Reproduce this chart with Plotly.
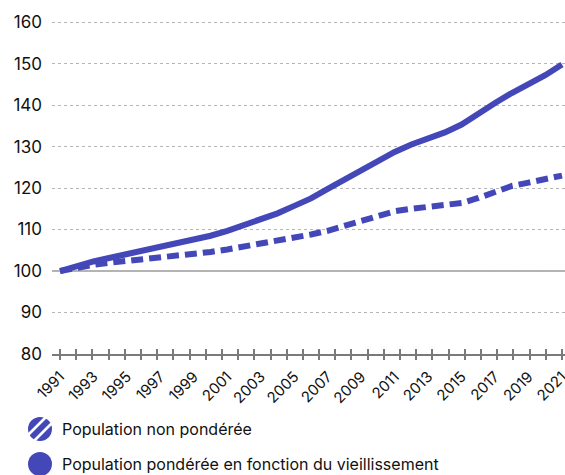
import plotly.graph_objects as go

years = list(range(1991, 2022))
pop_ponderee = [100.0, 101.2, 102.3, 103.2, 104.1, 104.9, 105.7, 106.5, 107.4, 108.5,
                109.7, 111.0, 112.4, 113.9, 115.7, 117.5, 119.8, 122.0, 124.4, 126.7,
                128.7, 130.5, 132.0, 133.4, 135.3, 138.0, 140.5, 142.9, 145.0, 147.2, 149.8]
pop_non_ponderee = [100.0, 100.8, 101.5, 102.0, 102.4, 102.7, 103.1, 103.5, 104.0, 104.6,
                    105.2, 105.9, 106.6, 107.2, 107.9, 108.8, 109.7, 110.9, 112.0, 113.3,
                    114.4, 115.0, 115.4, 115.8, 116.4, 117.6, 119.2, 120.5, 121.3, 122.0, 123.0]
y_ticks = [80, 90, 100, 110, 120, 130, 140, 150, 160]
x_labels = list(range(1991, 2022, 2))
legend_labels = ["Population non pondérée", "Population pondérée en fonction du vieillissement"]

COLOR = "#4347b8"
FONT = "Inter, Roboto, sans-serif"
XRANGE = [1990.52, 2021.18]
tick_step = 30 / 31

fig = go.Figure()
fig.add_trace(go.Scatter(x=years, y=pop_non_ponderee, mode="lines",
                         line=dict(color=COLOR, width=6, dash="12px,6px"),
                         showlegend=False, hoverinfo="skip"))
fig.add_trace(go.Scatter(x=years, y=pop_ponderee, mode="lines",
                         line=dict(color=COLOR, width=6),
                         showlegend=False, hoverinfo="skip"))
# dummy traces to create overlay axes for crossing tick marks
fig.add_trace(go.Scatter(x=[years[0]], y=[pop_ponderee[0]], xaxis="x2", mode="markers",
                         marker=dict(opacity=0), showlegend=False, hoverinfo="skip"))
fig.add_trace(go.Scatter(x=[years[0]], y=[pop_ponderee[0]], xaxis="x3", mode="markers",
                         marker=dict(opacity=0), showlegend=False, hoverinfo="skip"))

axis_gray = "#7a7a7a"
fig.update_layout(
    width=565, height=475,
    margin=dict(l=52, r=0, t=20, b=121, autoexpand=False),
    paper_bgcolor="white", plot_bgcolor="white",
    font=dict(family=FONT, color="#111", size=16),
    hovermode=False,
    xaxis=dict(range=XRANGE, tickmode="array", tickvals=x_labels,
               ticktext=[str(v) for v in x_labels], tickangle=-45,
               ticks="", showgrid=False, zeroline=False, automargin=False,
               ticklabeloverflow="allow",
               showline=True, linecolor=axis_gray, linewidth=2, ticklabelstandoff=6,
               tickfont=dict(size=15, family=FONT, color="#111")),
    xaxis2=dict(range=XRANGE, overlaying="x", anchor="y", side="bottom",
                tick0=1991, dtick=tick_step, ticks="outside", ticklen=5, automargin=False,
                tickwidth=1.5, tickcolor=axis_gray, showticklabels=False,
                showgrid=False, zeroline=False, showline=False),
    xaxis3=dict(range=XRANGE, overlaying="x", anchor="y", side="bottom",
                tick0=1991, dtick=tick_step, ticks="inside", ticklen=5, automargin=False,
                tickwidth=1.5, tickcolor=axis_gray, showticklabels=False,
                showgrid=False, zeroline=False, showline=False),
    yaxis=dict(range=[80, 160.5], tickvals=y_ticks, ticks="", automargin=False,
               showgrid=True, gridcolor="#b5b5b5", gridwidth=1, griddash="dot",
               zeroline=False, showline=False, ticklabelstandoff=9,
               tickfont=dict(size=17, family=FONT, color="#111")),
)

# reference line at 100
fig.add_shape(type="line", xref="paper", x0=0, x1=1, yref="y", y0=100, y1=100,
              line=dict(color="#9a9a9a", width=1.5), layer="below")

# custom legend
centers = [(-12, -75), (-12, -110)]
r = 12
for (cx, cy) in centers:
    fig.add_shape(type="circle", xref="paper", yref="paper", xsizemode="pixel", ysizemode="pixel",
                  xanchor=0, yanchor=0, x0=cx - r, x1=cx + r, y0=cy - r, y1=cy + r,
                  fillcolor=COLOR, line=dict(width=0))
cx, cy = centers[0]
for d in (-4.2, 4.2):
    ox, oy = d * 0.7071, -d * 0.7071
    fig.add_shape(type="line", xref="paper", yref="paper", xsizemode="pixel", ysizemode="pixel",
                  xanchor=0, yanchor=0,
                  x0=cx + ox - 14, y0=cy + oy - 14, x1=cx + ox + 14, y1=cy + oy + 14,
                  line=dict(color="white", width=2.6))
for (cx, cy), label in zip(centers, legend_labels):
    fig.add_annotation(text=label, xref="paper", yref="paper", x=0, y=0,
                       xshift=8, yshift=cy, xanchor="left", yanchor="middle",
                       showarrow=False, font=dict(size=16, family=FONT, color="#111"))

fig.write_html("out.html", config={"displayModeBar": False},
               post_script="document.body.style.margin='0';document.body.style.overflow='hidden';")
